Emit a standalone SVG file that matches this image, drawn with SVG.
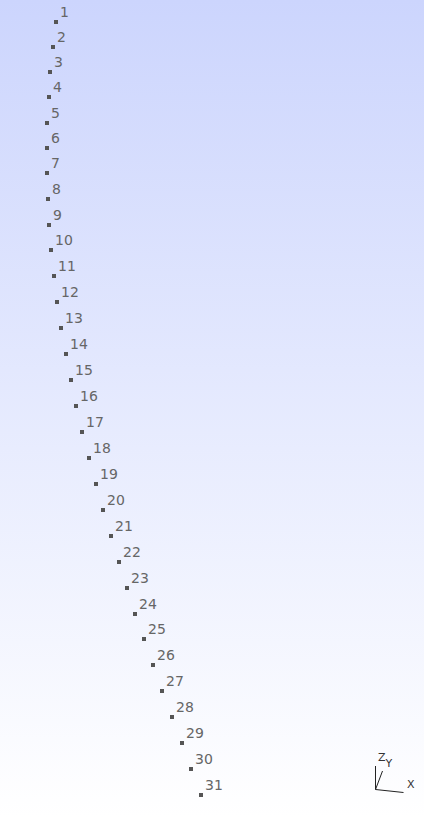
<svg xmlns="http://www.w3.org/2000/svg" width="424" height="818" viewBox="0 0 424 818">
<style>
.pt{fill:#555}
.lb{font-family:"DejaVu Sans",sans-serif;font-size:14px;fill:#666}
.ax{stroke:#222;stroke-width:1;fill:none}
.al{font-family:"DejaVu Sans",sans-serif;font-size:11px;fill:#333}
</style>
<defs>
<linearGradient id="bg" x1="0" y1="0" x2="0" y2="1">
<stop offset="0" stop-color="#ccd5fd"/>
<stop offset="1" stop-color="#ffffff"/>
</linearGradient>
</defs>
<rect x="0" y="0" width="424" height="818" fill="url(#bg)"/>
<g id="points">
<g id="n1"><rect class="pt" x="54" y="20" width="4" height="4"/><text class="lb" x="60" y="17">1</text></g>
<g id="n2"><rect class="pt" x="51" y="45" width="4" height="4"/><text class="lb" x="57" y="42">2</text></g>
<g id="n3"><rect class="pt" x="48" y="70" width="4" height="4"/><text class="lb" x="54" y="67">3</text></g>
<g id="n4"><rect class="pt" x="47" y="95" width="4" height="4"/><text class="lb" x="53" y="92">4</text></g>
<g id="n5"><rect class="pt" x="45" y="121" width="4" height="4"/><text class="lb" x="51" y="118">5</text></g>
<g id="n6"><rect class="pt" x="45" y="146" width="4" height="4"/><text class="lb" x="51" y="143">6</text></g>
<g id="n7"><rect class="pt" x="45" y="171" width="4" height="4"/><text class="lb" x="51" y="168">7</text></g>
<g id="n8"><rect class="pt" x="46" y="197" width="4" height="4"/><text class="lb" x="52" y="194">8</text></g>
<g id="n9"><rect class="pt" x="47" y="223" width="4" height="4"/><text class="lb" x="53" y="220">9</text></g>
<g id="n10"><rect class="pt" x="49" y="248" width="4" height="4"/><text class="lb" x="55" y="245">10</text></g>
<g id="n11"><rect class="pt" x="52" y="274" width="4" height="4"/><text class="lb" x="58" y="271">11</text></g>
<g id="n12"><rect class="pt" x="55" y="300" width="4" height="4"/><text class="lb" x="61" y="297">12</text></g>
<g id="n13"><rect class="pt" x="59" y="326" width="4" height="4"/><text class="lb" x="65" y="323">13</text></g>
<g id="n14"><rect class="pt" x="64" y="352" width="4" height="4"/><text class="lb" x="70" y="349">14</text></g>
<g id="n15"><rect class="pt" x="69" y="378" width="4" height="4"/><text class="lb" x="75" y="375">15</text></g>
<g id="n16"><rect class="pt" x="74" y="404" width="4" height="4"/><text class="lb" x="80" y="401">16</text></g>
<g id="n17"><rect class="pt" x="80" y="430" width="4" height="4"/><text class="lb" x="86" y="427">17</text></g>
<g id="n18"><rect class="pt" x="87" y="456" width="4" height="4"/><text class="lb" x="93" y="453">18</text></g>
<g id="n19"><rect class="pt" x="94" y="482" width="4" height="4"/><text class="lb" x="100" y="479">19</text></g>
<g id="n20"><rect class="pt" x="101" y="508" width="4" height="4"/><text class="lb" x="107" y="505">20</text></g>
<g id="n21"><rect class="pt" x="109" y="534" width="4" height="4"/><text class="lb" x="115" y="531">21</text></g>
<g id="n22"><rect class="pt" x="117" y="560" width="4" height="4"/><text class="lb" x="123" y="557">22</text></g>
<g id="n23"><rect class="pt" x="125" y="586" width="4" height="4"/><text class="lb" x="131" y="583">23</text></g>
<g id="n24"><rect class="pt" x="133" y="612" width="4" height="4"/><text class="lb" x="139" y="609">24</text></g>
<g id="n25"><rect class="pt" x="142" y="637" width="4" height="4"/><text class="lb" x="148" y="634">25</text></g>
<g id="n26"><rect class="pt" x="151" y="663" width="4" height="4"/><text class="lb" x="157" y="660">26</text></g>
<g id="n27"><rect class="pt" x="160" y="689" width="4" height="4"/><text class="lb" x="166" y="686">27</text></g>
<g id="n28"><rect class="pt" x="170" y="715" width="4" height="4"/><text class="lb" x="176" y="712">28</text></g>
<g id="n29"><rect class="pt" x="180" y="741" width="4" height="4"/><text class="lb" x="186" y="738">29</text></g>
<g id="n30"><rect class="pt" x="189" y="767" width="4" height="4"/><text class="lb" x="195" y="764">30</text></g>
<g id="n31"><rect class="pt" x="199" y="793" width="4" height="4"/><text class="lb" x="205" y="790">31</text></g>
</g>
<g id="axes">
<path class="ax" d="M375.5 789.5V766M375.5 789.5L382.5 771M375.5 789.5L403.5 792.5"/>
<text class="al" x="378" y="760.5">Z</text>
<text class="al" x="385.5" y="766.5">Y</text>
<text class="al" x="407" y="787.5">X</text>
</g>
</svg>
